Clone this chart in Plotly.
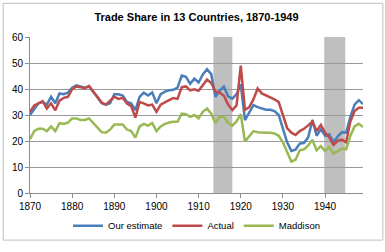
import plotly.graph_objects as go

years = list(range(1870, 1950))

our_estimate = [
    30.0, 32.5, 34.5, 35.0, 34.0, 37.0, 34.5, 38.3, 38.0, 38.6,
    40.5, 41.4, 41.0, 40.5, 41.0, 39.0, 36.8, 34.5, 34.0, 34.5,
    38.0, 38.0, 37.5, 35.0, 34.5, 31.9, 37.0, 38.6, 37.5, 38.7,
    34.5, 38.0, 39.0, 39.5, 39.7, 40.5, 45.2, 44.7, 42.0, 44.0,
    42.5, 45.6, 47.6, 45.7, 37.0, 39.4, 40.9, 37.2, 36.3, 38.0,
    41.8, 28.0, 31.0, 33.8, 33.0, 32.5, 32.0, 32.0, 31.5, 30.0,
    24.5, 19.5, 16.2, 16.7, 19.0, 19.2, 21.4, 28.1, 22.0, 24.5,
    22.0, 22.6, 19.5, 21.7, 23.4, 23.2, 29.3, 34.0, 35.7, 34.2,
]

actual = [
    31.2, 33.7, 34.5, 35.3, 32.5, 34.5, 31.8, 35.5, 36.6, 37.0,
    39.9, 41.0, 40.7, 40.2, 41.2, 39.2, 37.0, 34.8, 34.0, 35.5,
    37.0, 36.2, 36.6, 34.4, 33.4, 29.0, 35.0, 34.5, 33.7, 34.0,
    31.2, 34.0, 35.0, 35.7, 36.5, 36.2, 40.7, 41.0, 39.5, 39.9,
    39.3, 41.7, 43.6, 42.3, 39.0, 38.6, 37.4, 34.0, 31.9, 33.7,
    49.0, 32.0, 33.0, 36.0, 40.2, 38.3, 37.5, 37.0, 36.0, 35.0,
    30.0, 25.0, 23.2, 22.3, 23.8, 24.7, 26.0, 27.5, 23.8, 26.2,
    23.2, 21.4, 18.5, 20.1, 20.5, 19.5, 27.5, 31.5, 32.8, 32.8,
]

maddison = [
    20.7, 23.8, 24.7, 24.7, 23.8, 25.6, 23.8, 26.9, 26.6, 27.1,
    28.7, 28.7, 28.1, 28.1, 28.7, 26.9, 25.0, 23.4, 23.2, 24.4,
    26.3, 26.3, 26.3, 24.4, 23.8, 21.3, 25.6, 26.6, 25.9, 26.9,
    23.8, 25.6, 26.6, 27.1, 27.4, 27.4, 30.5, 30.3, 29.3, 30.0,
    28.7, 31.2, 32.5, 30.5, 26.9, 29.3, 29.3, 26.9, 25.9, 27.5,
    30.3, 19.8, 22.0, 23.8, 23.4, 23.2, 23.2, 23.2, 22.9, 22.0,
    19.5, 15.8, 12.1, 12.8, 16.4, 16.8, 18.3, 20.5, 16.4, 18.0,
    16.1, 17.7, 15.2, 16.1, 17.1, 16.8, 22.0, 25.6, 26.6, 25.4,
]

war_periods = [(1913.5, 1918.0), (1939.8, 1944.8)]

series = [
    ("Our estimate", our_estimate, "#4a7ebb"),
    ("Actual", actual, "#be4b48"),
    ("Maddison", maddison, "#98b954"),
]

font_family = "Liberation Sans, Arial, sans-serif"

fig = go.Figure()
for name, vals, color in series:
    fig.add_trace(go.Scatter(
        x=years, y=vals, name=name, mode="lines",
        line=dict(color=color, width=2.5),
    ))

shapes = []
for x0, x1 in war_periods:
    shapes.append(dict(
        type="rect", xref="x", yref="y", x0=x0, x1=x1, y0=0, y1=60,
        fillcolor="#bfbfbf", line=dict(width=0), layer="below",
    ))
# chart outer border
shapes.append(dict(
    type="rect", xref="paper", yref="paper",
    x0=-0.0806, x1=1.0597, y0=-0.302, y1=1.216,
    line=dict(color="#bfbfbf", width=1), fillcolor="rgba(0,0,0,0)",
))

fig.update_layout(
    width=385, height=252,
    margin=dict(l=28, r=22, t=37, b=53),
    paper_bgcolor="white", plot_bgcolor="white",
    font=dict(family=font_family, size=10, color="#000000"),
    title=dict(
        text="<b>Trade Share in 13 Countries, 1870-1949</b>",
        x=0.5, xref="paper", xanchor="center",
        y=1 - 17 / 252, yref="container", yanchor="middle",
        font=dict(size=11, family=font_family),
    ),
    showlegend=True,
    legend=dict(
        orientation="h", x=0.5, xanchor="center", y=-0.21, yanchor="middle",
        font=dict(size=9.5, family=font_family),
        itemwidth=30, tracegroupgap=0, bgcolor="rgba(0,0,0,0)",
    ),
    shapes=shapes,
    xaxis=dict(
        range=[1870, 1949], tickmode="array",
        tickvals=[1870, 1880, 1890, 1900, 1910, 1920, 1930, 1940],
        ticktext=["1870", "1880", "1890", "1900", "1910", "1920", "1930", "1940"],
        showgrid=False, showline=True, linecolor="#8c8c8c", linewidth=1,
        ticks="outside", ticklen=4, tickcolor="#8c8c8c",
        zeroline=False, tickfont=dict(size=10),
    ),
    yaxis=dict(
        range=[0, 60], tickvals=[0, 10, 20, 30, 40, 50, 60],
        showgrid=True, gridcolor="#999999", gridwidth=1,
        showline=True, linecolor="#8c8c8c", linewidth=1,
        ticks="outside", ticklen=4, tickcolor="#8c8c8c",
        zeroline=False, tickfont=dict(size=10),
    ),
)

fig.write_html("out.html")
